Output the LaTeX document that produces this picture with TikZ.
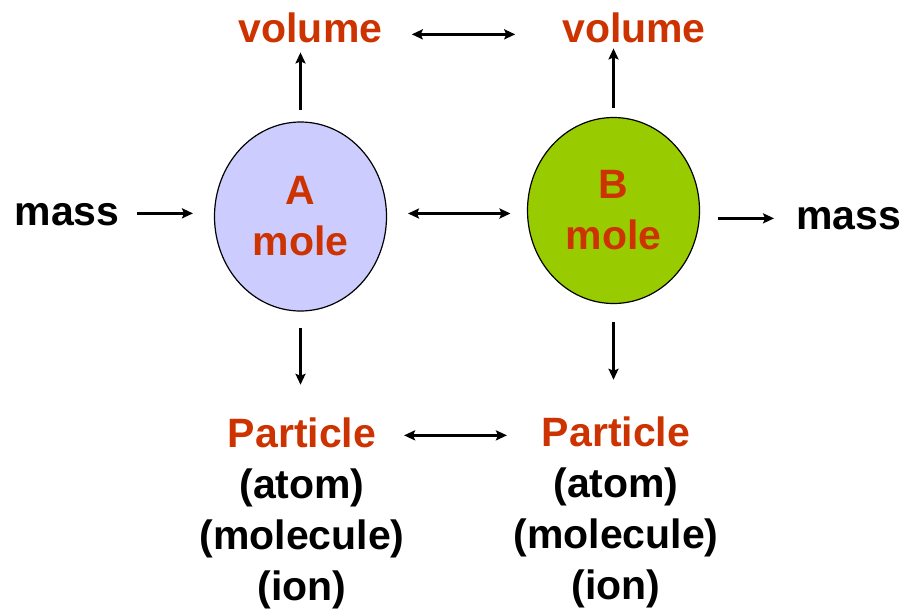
\documentclass[tikz,border=0pt]{standalone}
\usepackage{fontspec}
\setmainfont{Liberation Sans}
\usetikzlibrary{arrows.meta,shapes.geometric,positioning}
\definecolor{moleRed}{HTML}{CC3300}
\definecolor{moleBlue}{HTML}{CCCCFF}
\definecolor{moleGreen}{HTML}{99CC00}

\begin{document}
\begin{tikzpicture}[x=1pt, y=-1pt,
	every node/.style={font=\fontsize{41}{51}\selectfont\bfseries, inner sep=0pt, outer sep=0pt},
	>={Stealth[length=11pt, width=10pt, inset=2pt]},
	qty/.style={text=moleRed, anchor=base},
	lbl/.style={anchor=base},
	kinds/.style={align=center, anchor=north},
	molebox/.style={ellipse, draw, line width=1.2pt, minimum width=172pt, minimum height=189pt, text=moleRed, align=center},
	arr/.style={line width=3pt}]
	\useasboundingbox (0,0) rectangle (907,608);
	% the two moles
	\node[molebox, fill=moleBlue] (moleA) at (300.5,216.5) {A\\mole};
	\node[molebox, fill=moleGreen, minimum height=186pt] (moleB) at (613.5,210.5) {B\\mole};
	% around them
	\node[qty] (volA) at (310.5,42) {volume};
	\node[qty] (volB) at (634,42) {volume};
	\node[lbl] (massA) at (67,225) {mass};
	\node[lbl] (massB) at (848.5,229) {mass};
	\node[qty] (partA) at (302,447) {Particle};
	\node[qty] (partB) at (616,446) {Particle};
	\node[kinds, below=21.5pt of partA.base] (kindsA) {(atom)\\(molecule)\\(ion)};
	\node[kinds, below=21.5pt of partB.base] (kindsB) {(atom)\\(molecule)\\(ion)};
	% arrows
	\draw[arr, <->, shorten <=29.5pt, shorten >=47pt] ([yshift=5pt]volA.mid east) -- ([yshift=5pt]volB.mid west);
	\draw[arr, ->, shorten <=12pt, shorten >=10pt] (moleA.north) -- (moleA.north |- volA.south);
	\draw[arr, ->, shorten <=9.5pt, shorten >=6pt] (moleB.north) -- (moleB.north |- volB.south);
	\draw[arr, ->, shorten <=17.5pt, shorten >=21.5pt] ([yshift=9pt]massA.mid east) -- ([yshift=9pt]massA.mid east -| moleA.west);
	\draw[arr, <->, shorten <=21.5pt, shorten >=17pt] ([yshift=3pt]moleA.east) -- ([yshift=3pt]moleA.east -| moleB.west);
	\draw[arr, ->, shorten <=18pt, shorten >=22pt] ([yshift=8pt]moleB.east |- massB.mid west) -- ([yshift=8pt]massB.mid west);
	\draw[arr, ->, shorten <=17pt, shorten >=32.5pt] (moleA.south) -- (moleA.south |- partA.north);
	\draw[arr, ->, shorten <=18.5pt, shorten >=36.5pt] (moleB.south) -- (moleB.south |- partB.north);
	\draw[arr, <->, shorten <=28pt, shorten >=35pt] ([yshift=9pt]partA.mid east) -- ([yshift=9pt]partA.mid east -| partB.mid west);
\end{tikzpicture}
\end{document}
